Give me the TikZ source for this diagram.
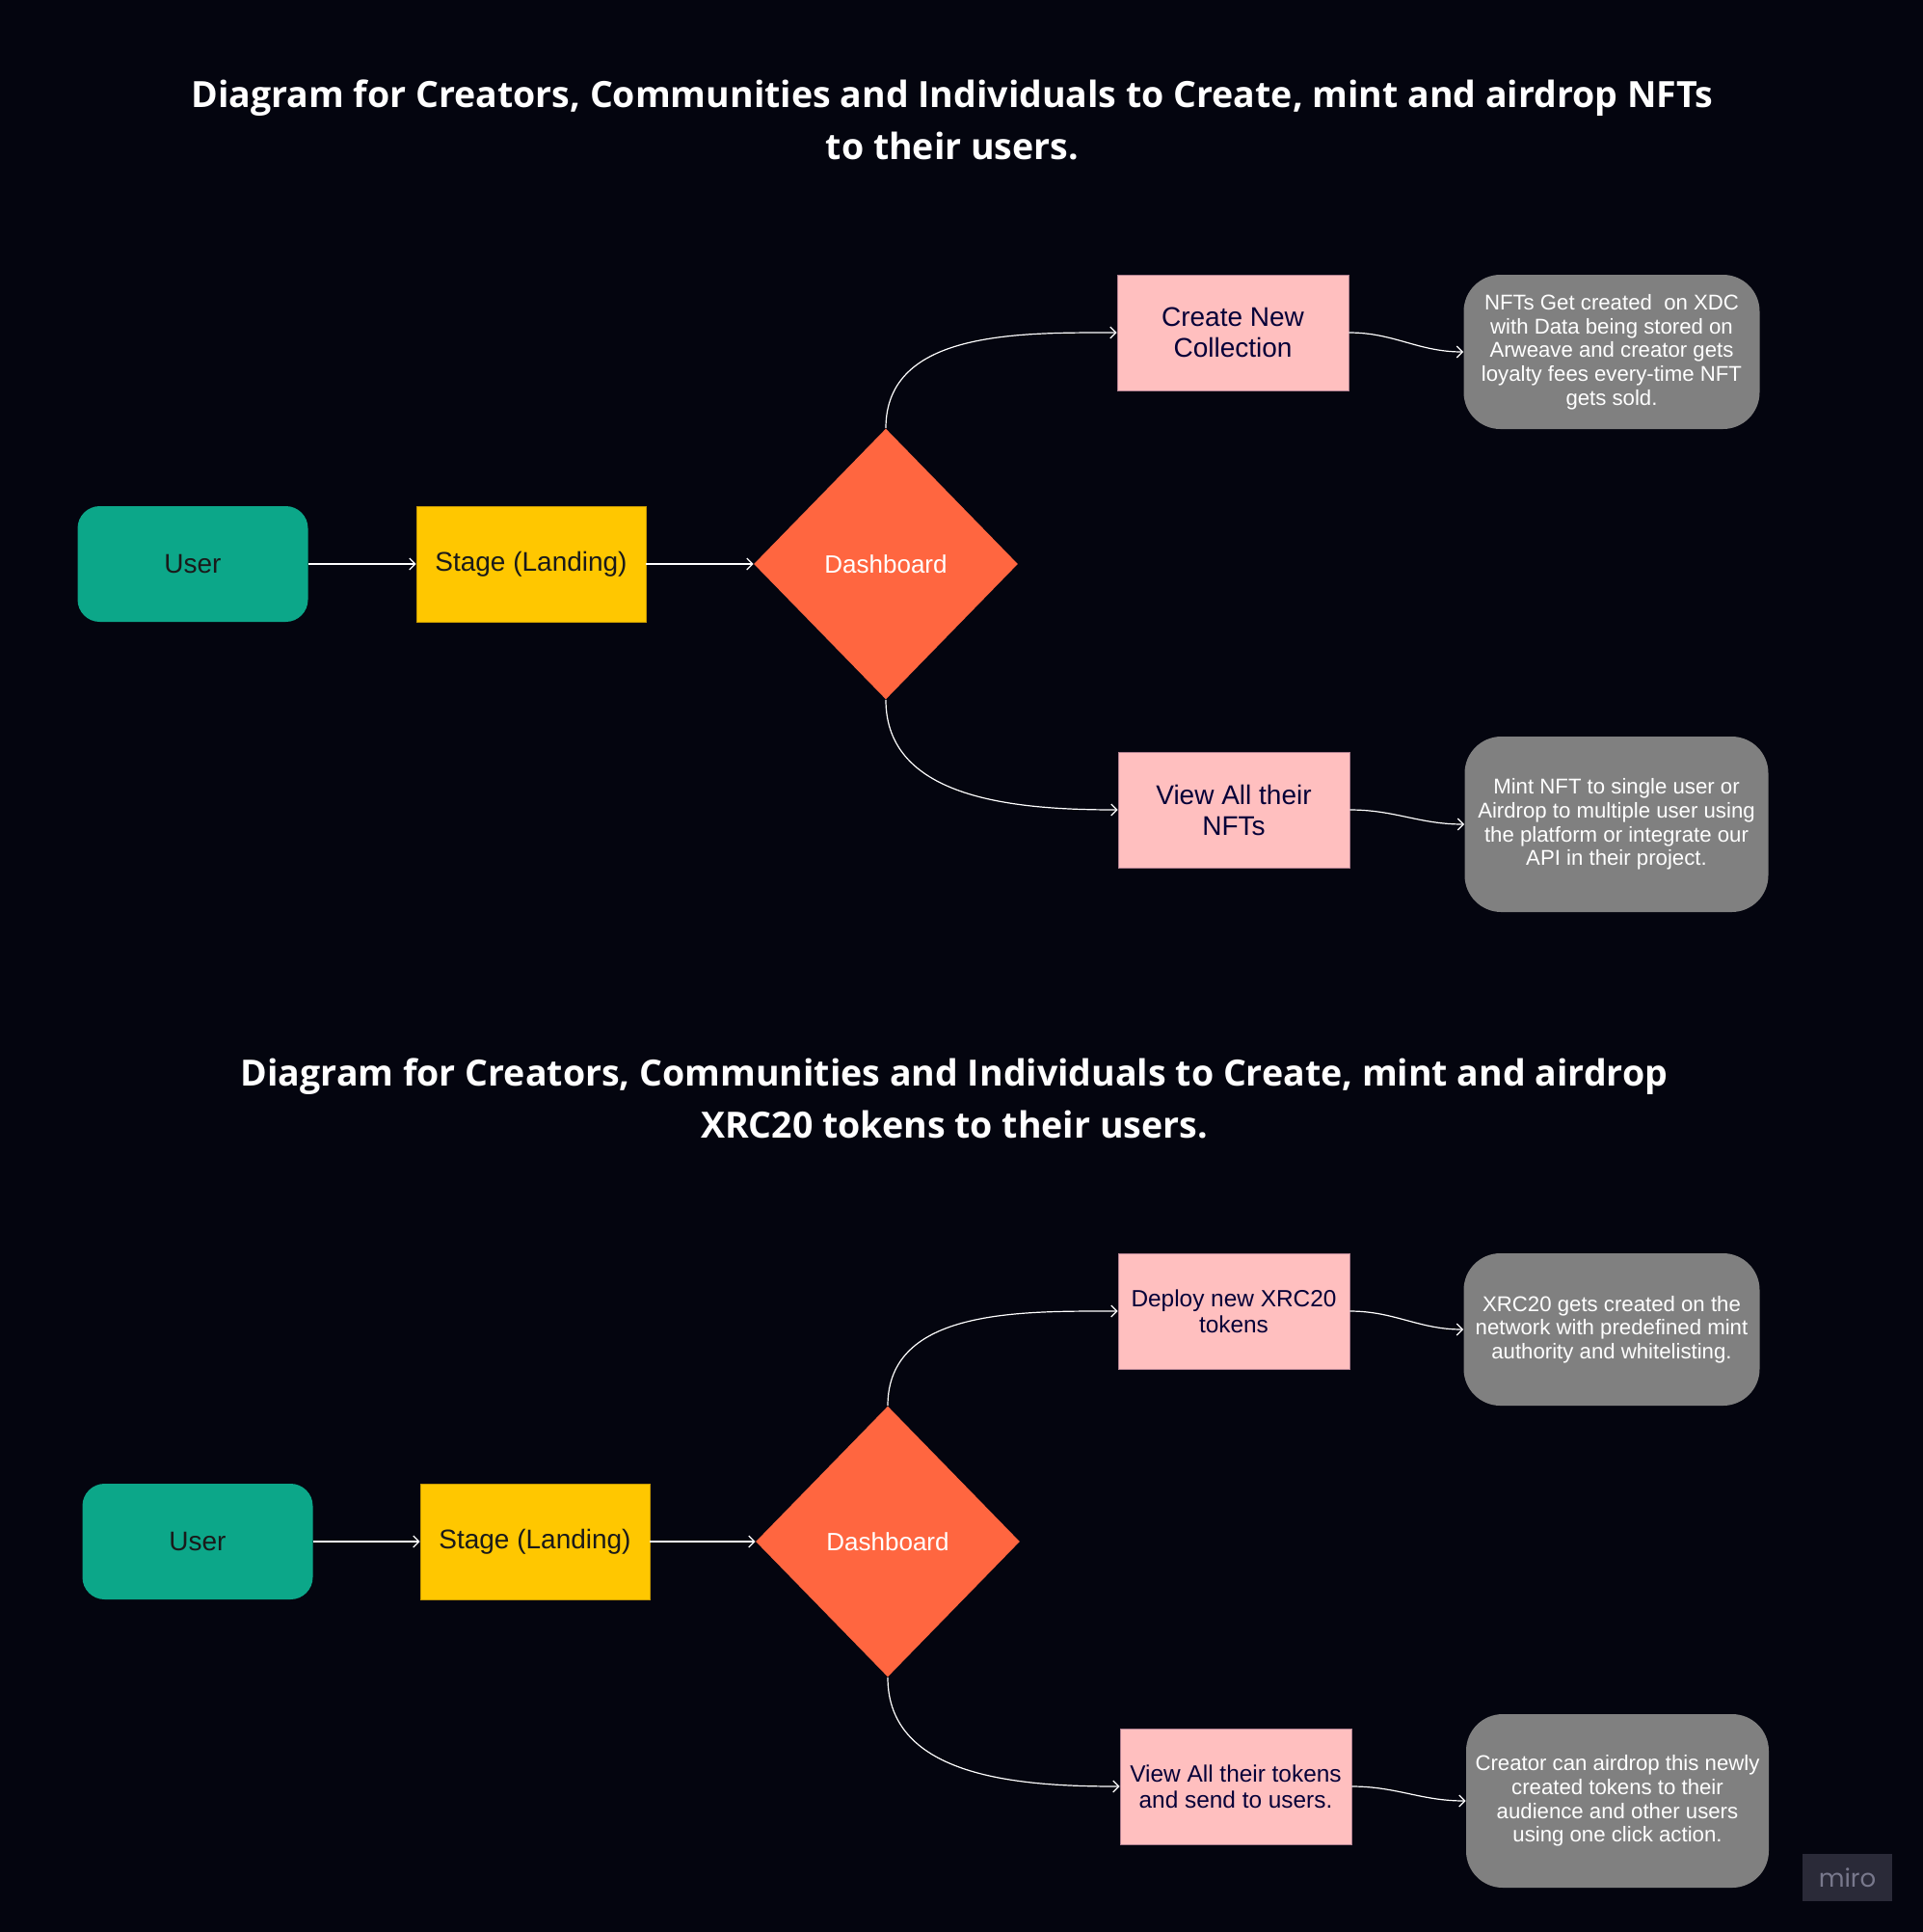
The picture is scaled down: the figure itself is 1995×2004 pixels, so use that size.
\documentclass[tikz,border=0pt]{standalone}
\usepackage{fontspec}
\setmainfont{Liberation Sans}
\newfontfamily\titlefont{Open Sans}
\newfontfamily\logofont{Poppins}
\usetikzlibrary{shapes.geometric,arrows.meta}
\definecolor{bg}{HTML}{04050F}
\definecolor{tealc}{HTML}{0CA789}
\definecolor{yellowc}{HTML}{FFC700}
\definecolor{yellowedge}{HTML}{C89A00}
\definecolor{orangec}{HTML}{FF6640}
\definecolor{pinkc}{HTML}{FFBFBF}
\definecolor{pinkedge}{HTML}{B08090}
\definecolor{grayc}{HTML}{808080}
\definecolor{navytext}{HTML}{050038}
\definecolor{darktext}{HTML}{1A1A1A}
\definecolor{logobg}{HTML}{2A2A38}
\definecolor{logotext}{HTML}{78788C}
\tikzset{
  userbox/.style={rounded corners=11.5pt, fill=tealc, minimum width=119.5pt, minimum height=60pt, inner sep=0pt, text=darktext, font=\fontsize{14}{16}\selectfont},
  stagebox/.style={fill=yellowc, draw=yellowedge, line width=0.4pt, minimum width=119pt, minimum height=60pt, inner sep=0pt, text=darktext, font=\fontsize{14}{16}\selectfont},
  dashbox/.style={diamond, fill=orangec, minimum width=137pt, minimum height=140.5pt, inner sep=0pt, text=white, font=\fontsize{13}{15}\selectfont},
  pinkbox/.style={fill=pinkc, draw=pinkedge, line width=0.4pt, minimum width=120pt, minimum height=60pt, inner sep=0pt, align=center, text=navytext, font=\fontsize{14}{16}\selectfont},
  pinksmall/.style={pinkbox, font=\fontsize{12.2}{13.5}\selectfont},
  graybox/.style={fill=grayc, rounded corners=19pt, minimum width=153.5pt, minimum height=80pt, inner sep=0pt, align=center, text=white, font=\fontsize{11.1}{12.35}\selectfont},
  titletext/.style={align=center, text=white, font=\titlefont\bfseries\fontsize{18.75}{27}\selectfont},
  conn/.style={draw=white, line width=0.6pt, -{Straight Barb[length=3pt,width=6pt]}},
}
\begin{document}
\begin{tikzpicture}[x=0.5pt,y=-0.5pt]
\fill[bg] (0,0) rectangle (1995,2004);
\useasboundingbox (0,0) rectangle (1995,2004);

% ---------- top diagram ----------
\node[titletext] (t1) at (988,124) {Diagram for Creators, Communities and Individuals to Create, mint and airdrop NFTs\\to their users.};

\node[userbox] (u1) at (200,585) {User};
\node[stagebox] (s1) at (551,585) {Stage (Landing)};
\node[dashbox] (d1) at (919,585) {Dashboard};
\node[pinkbox] (c1) at (1279,345) {Create New\\Collection};
\node[pinkbox] (v1) at (1280,840) {View All their\\NFTs};
\node[graybox] (g1) at (1672,365) {NFTs Get created\ \ on XDC\\with Data being stored on\\Arweave and creator gets\\loyalty fees every-time NFT\\gets sold.};
\node[graybox, minimum width=157.5pt, minimum height=91pt] (g2) at (1677,855) {Mint NFT to single user or\\Airdrop to multiple user using\\the platform or integrate our\\API in their project.};

\draw[conn] (u1.east) -- (s1.west);
\draw[conn] (s1.east) -- (d1.west);
\draw[conn] (d1.north) to[out=90,in=180] (c1.west);
\draw[conn] (d1.south) to[out=-90,in=180] (v1.west);
\draw[conn] (c1.east) to[out=0,in=180] (g1.west);
\draw[conn] (v1.east) to[out=0,in=180] (g2.west);

% ---------- bottom diagram ----------
\node[titletext] (t2) at (990,1139) {Diagram for Creators, Communities and Individuals to Create, mint and airdrop\\XRC20 tokens to their users.};

\node[userbox] (u2) at (205,1599) {User};
\node[stagebox] (s2) at (555,1599) {Stage (Landing)};
\node[dashbox] (d2) at (921,1599) {Dashboard};
\node[pinksmall] (c2) at (1280,1360) {Deploy new XRC20\\tokens};
\node[pinksmall] (v2) at (1282,1853) {View All their tokens\\and send to users.};
\node[graybox, minimum height=79pt] (g3) at (1672,1379) {XRC20 gets created on the\\network with predefined mint\\authority and whitelisting.};
\node[graybox, minimum width=157pt, minimum height=90pt] (g4) at (1678,1868) {Creator can airdrop this newly\\created tokens to their\\audience and other users\\using one click action.};

\draw[conn] (u2.east) -- (s2.west);
\draw[conn] (s2.east) -- (d2.west);
\draw[conn] (d2.north) to[out=90,in=180] (c2.west);
\draw[conn] (d2.south) to[out=-90,in=180] (v2.west);
\draw[conn] (c2.east) to[out=0,in=180] (g3.west);
\draw[conn] (v2.east) to[out=0,in=180] (g4.west);

% ---------- logo ----------
\node[fill=logobg, minimum width=46.5pt, minimum height=24.5pt, inner sep=0pt, text=logotext, font=\logofont\fontsize{13}{15}\selectfont] (logo) at (1916.5,1947.5) {miro};
\end{tikzpicture}
\end{document}
